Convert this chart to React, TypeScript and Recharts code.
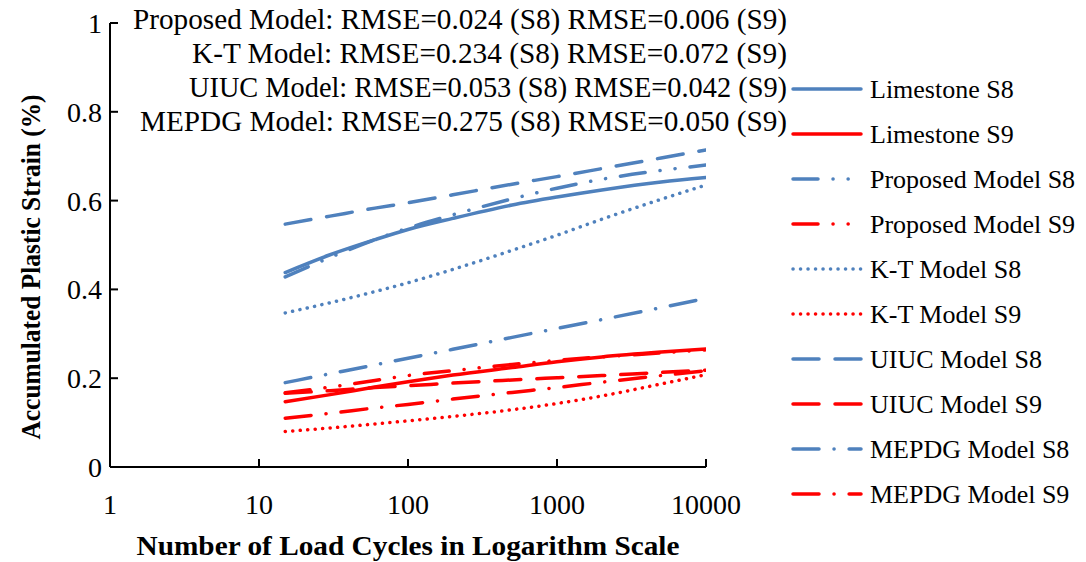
import { LineChart, Line, XAxis, YAxis } from "recharts";

const FONT = '"Liberation Serif", "Times New Roman", serif';
const BLUE = "#4F81BD";
const RED = "#FF0000";

// load cycles (log scale)
const cycles = [15, 30, 60, 100, 200, 500, 1000, 2000, 5000, 10000];
const xTicks = [1, 10, 100, 1000, 10000];
const yTicks = [0, 0.2, 0.4, 0.6, 0.8, 1];

// accumulated plastic strain (%)
const limestoneS8 = [0.438, 0.478, 0.512, 0.535, 0.56, 0.59, 0.608, 0.624, 0.642, 0.652];
const limestoneS9 = [0.147, 0.163, 0.18, 0.192, 0.207, 0.224, 0.237, 0.248, 0.259, 0.266];
const proposedS8 = [0.428, 0.472, 0.512, 0.538, 0.568, 0.604, 0.628, 0.648, 0.668, 0.68];
const proposedS9 = [0.167, 0.18, 0.195, 0.206, 0.217, 0.231, 0.24, 0.248, 0.257, 0.264];
const ktS8 = [0.347, 0.37, 0.395, 0.415, 0.445, 0.488, 0.522, 0.558, 0.603, 0.635];
const ktS9 = [0.08, 0.088, 0.097, 0.104, 0.114, 0.129, 0.143, 0.16, 0.187, 0.208];
const uiucS8 = [0.547, 0.565, 0.583, 0.595, 0.613, 0.637, 0.654, 0.672, 0.696, 0.714];
const uiucS9 = [0.166, 0.172, 0.179, 0.183, 0.189, 0.196, 0.201, 0.206, 0.213, 0.218];
const mepdgS8 = [0.19, 0.21, 0.23, 0.245, 0.265, 0.292, 0.312, 0.332, 0.359, 0.38];
const mepdgS9 = [0.11, 0.121, 0.133, 0.141, 0.153, 0.168, 0.179, 0.191, 0.206, 0.217];

const rmseNotes = [
  "Proposed Model: RMSE=0.024 (S8) RMSE=0.006 (S9)",
  "K-T Model: RMSE=0.234 (S8) RMSE=0.072 (S9)",
  "UIUC Model: RMSE=0.053 (S8) RMSE=0.042 (S9)",
  "MEPDG Model: RMSE=0.275 (S8) RMSE=0.050 (S9)",
];
const rmseWidths = [654, 595, 598, 647];

const DASH = {
  solid: undefined,
  dashDotDot: "25 15 0.1 15 0.1 15",
  dot: "0.1 7.4",
  dash: "26 16",
  dashDot: "26 15 0.1 15",
};

const toPoints = (vals: number[]) => cycles.map((x, i) => ({ x, y: vals[i] }));

const series = [
  { name: "Limestone S8", color: BLUE, dash: DASH.solid, values: limestoneS8 },
  { name: "Limestone S9", color: RED, dash: DASH.solid, values: limestoneS9 },
  { name: "Proposed Model S8", color: BLUE, dash: DASH.dashDotDot, values: proposedS8 },
  { name: "Proposed Model S9", color: RED, dash: DASH.dashDotDot, values: proposedS9 },
  { name: "K-T Model S8", color: BLUE, dash: DASH.dot, values: ktS8 },
  { name: "K-T Model S9", color: RED, dash: DASH.dot, values: ktS9 },
  { name: "UIUC Model S8", color: BLUE, dash: DASH.dash, values: uiucS8 },
  { name: "UIUC Model S9", color: RED, dash: DASH.dash, values: uiucS9 },
  { name: "MEPDG Model S8", color: BLUE, dash: DASH.dashDot, values: mepdgS8 },
  { name: "MEPDG Model S9", color: RED, dash: DASH.dashDot, values: mepdgS9 },
];

function XTick(props: any) {
  const { x, y, payload } = props;
  return (
    <g>
      {payload.value !== 1 && <line x1={x} y1={y} x2={x} y2={y - 8} stroke="#000" strokeWidth={2} />}
      <text x={x} y={y + 47} textAnchor="middle" fontFamily={FONT} fontSize={28} fill="#000">
        {payload.value}
      </text>
    </g>
  );
}

function YTick(props: any) {
  const { x, y, payload } = props;
  return (
    <g>
      {payload.value !== 0 && <line x1={x} y1={y} x2={x + 8} y2={y} stroke="#000" strokeWidth={2} />}
      <text x={x - 8} y={y + 10} textAnchor="end" fontFamily={FONT} fontSize={28} fill="#000">
        {String(payload.value)}
      </text>
    </g>
  );
}

export default function App() {
  return (
    <div style={{ position: "absolute", left: 0, top: 0, width: 1086, height: 562, background: "#fff" }}>
      <LineChart width={1086} height={562} margin={{ top: 23, right: 380, bottom: 35, left: 50 }}>
        <XAxis
          type="number"
          dataKey="x"
          scale="log"
          domain={[1, 10000]}
          ticks={xTicks}
          allowDataOverflow
          height={60}
          axisLine={{ stroke: "#000", strokeWidth: 2 }}
          tickLine={false}
          tickSize={0}
          tickMargin={0}
          tick={<XTick />}
          label={{
            content: (p: any) => (
              <text
                x={p.viewBox.x + p.viewBox.width / 2}
                y={555}
                textAnchor="middle"
                fontFamily={FONT}
                fontWeight="bold"
                fontSize={28}
                textLength={543}
                lengthAdjust="spacingAndGlyphs"
              >
                Number of Load Cycles in Logarithm Scale
              </text>
            ),
          }}
        />
        <YAxis
          type="number"
          dataKey="y"
          domain={[0, 1]}
          ticks={yTicks}
          allowDataOverflow
          width={60}
          axisLine={{ stroke: "#000", strokeWidth: 2 }}
          tickLine={false}
          tickSize={0}
          tickMargin={0}
          tick={<YTick />}
          label={{
            content: () => {
              const cx = 30;
              const cy = 267;
              return (
                <text
                  x={cx}
                  y={cy}
                  transform={`rotate(-90 ${cx} ${cy})`}
                  textAnchor="middle"
                  dominantBaseline="central"
                  fontFamily={FONT}
                  fontWeight="bold"
                  fontSize={28}
                  textLength={345}
                  lengthAdjust="spacingAndGlyphs"
                >
                  Accumulated Plastic Strain (%)
                </text>
              );
            },
          }}
        />
        {series.map((s) => (
          <Line
            key={s.name}
            name={s.name}
            data={toPoints(s.values)}
            dataKey="y"
            type="monotone"
            stroke={s.color}
            strokeWidth={3.5}
            strokeDasharray={s.dash}
            strokeLinecap="round"
            dot={false}
            activeDot={false}
            isAnimationActive={false}
          />
        ))}
      </LineChart>
      <svg
        width={1086}
        height={562}
        style={{ position: "absolute", left: 0, top: 0, pointerEvents: "none" }}
      >
        {rmseNotes.map((t, i) => (
          <text
            key={t}
            x={787}
            y={29 + i * 34}
            textAnchor="end"
            fontFamily={FONT}
            fontSize={30}
            textLength={rmseWidths[i]}
            lengthAdjust="spacingAndGlyphs"
            fill="#000"
          >
            {t}
          </text>
        ))}
        {series.map((s, i) => {
          const cy = 89 + i * 45;
          return (
            <g key={s.name}>
              <line
                x1={793}
                y1={cy}
                x2={861}
                y2={cy}
                stroke={s.color}
                strokeWidth={3.5}
                strokeDasharray={s.dash}
                strokeLinecap="round"
              />
              <text x={870} y={cy + 9} fontFamily={FONT} fontSize={26} fill="#000">
                {s.name}
              </text>
            </g>
          );
        })}
      </svg>
    </div>
  );
}
